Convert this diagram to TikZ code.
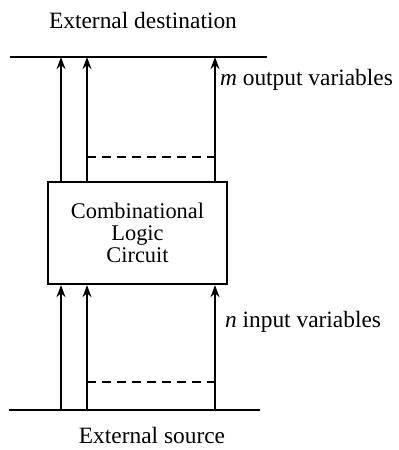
\documentclass[tikz,border=0pt]{standalone}
\usepackage{fontspec}
\setmainfont{Liberation Serif}
\usetikzlibrary{arrows.meta,positioning}

\begin{document}
\begin{tikzpicture}[x=0.5pt,y=-0.5pt,font=\fontsize{11.7}{12}\selectfont,
  bus/.style={line width=1.2pt},
  wire/.style={line width=1.1pt,-{Stealth[length=6pt,width=4.4pt]}},
  gap/.style={line width=0.8pt,dash pattern=on 4.5pt off 3pt}]
\useasboundingbox (0,0) rectangle (399,450);

% buses
\draw[bus] (10,57) -- (267,57);
\draw[bus] (9,410) -- (260,410);
\node (dest) at (143,20) {External destination};
\node (src) at (152,435) {External source};

\node[draw,line width=1.1pt,minimum width=89.5pt,minimum height=51pt,align=center,
  inner sep=0pt,font=\fontsize{11.2}{11}\selectfont] (clc) at (137.5,233)
  {Combinational\\Logic\\Circuit};

\coordinate (d1) at (61,57);
\coordinate (d2) at (87,57);
\coordinate (d3) at (215,57);
\coordinate (s1) at (61,410);
\coordinate (s2) at (87,410);
\coordinate (s3) at (215,410);

\foreach \i in {1,2,3} {
  \draw[wire] (clc.north -| d\i) -- (d\i);
  \draw[wire] (s\i) -- (clc.south -| s\i);
}

% dashed marks for the omitted variables
\draw[gap] (87,157) -- (215,157);
\draw[gap] (87,382) -- (215,382);

\node[anchor=west] (outv) at (213,80) {\textit{m} output variables};
\node[anchor=west] (inv) at (218,322) {\textit{n} input variables};
\end{tikzpicture}
\end{document}
